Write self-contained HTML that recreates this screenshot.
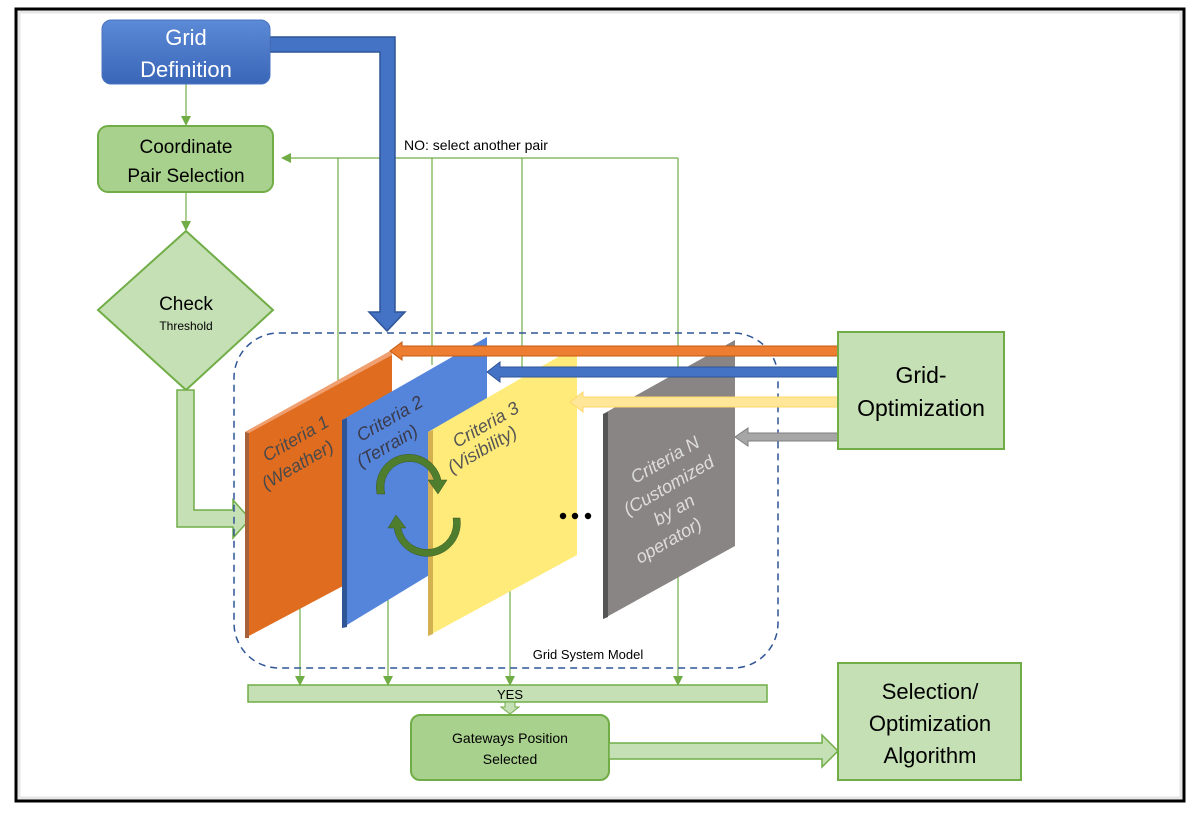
<!DOCTYPE html>
<html><head><style>
body{margin:0;background:#fff}
svg{display:block}
text{font-family:"Liberation Sans",sans-serif}
</style></head><body>
<svg width="1200" height="813" viewBox="0 0 1200 813" xmlns="http://www.w3.org/2000/svg">
<defs>
<linearGradient id="bl" x1="0" y1="0" x2="0" y2="1"><stop offset="0" stop-color="#5b8ad6"/><stop offset="1" stop-color="#3a66b8"/></linearGradient>
<marker id="ga" markerWidth="10" markerHeight="10" refX="9" refY="5" orient="auto" markerUnits="userSpaceOnUse"><path d="M0,0 L10,5 L0,10 z" fill="#70ad47"/></marker>
</defs>
<rect x="0" y="0" width="1200" height="813" fill="#fff"/>
<rect x="16" y="9" width="1168" height="792" fill="#fff" stroke="#000" stroke-width="3"/>
<rect x="19" y="12" width="1162" height="786" fill="none" stroke="#e6e6e6" stroke-width="3"/>

<g stroke="#70ad47" stroke-width="1.2" fill="none">
<line x1="678" y1="158" x2="282" y2="158" marker-end="url(#ga)"/>
<line x1="338" y1="158" x2="338" y2="385"/>
<line x1="432" y1="158" x2="432" y2="365"/>
<line x1="522" y1="158" x2="522" y2="375"/>
<line x1="678" y1="158" x2="678" y2="685" marker-end="url(#ga)"/>
<line x1="300" y1="600" x2="300" y2="685" marker-end="url(#ga)"/>
<line x1="388" y1="600" x2="388" y2="685" marker-end="url(#ga)"/>
<line x1="510" y1="590" x2="510" y2="685" marker-end="url(#ga)"/>
<line x1="186" y1="84" x2="186" y2="125" marker-end="url(#ga)"/>
<line x1="186" y1="192" x2="186" y2="230" marker-end="url(#ga)"/>
</g>
<text x="404" y="150" font-size="14" fill="#000">NO: select another pair</text>

<path d="M270,37 L395,37 L395,312 L405,312 L387,331 L369,312 L380,312 L380,52 L270,52 z" fill="#4472c4" stroke="#2f5597" stroke-width="1.5"/>

<rect x="102" y="20" width="168" height="64" rx="9" fill="url(#bl)" stroke="#4a74c0"/>
<text x="186" y="45" font-size="22" fill="#fff" text-anchor="middle">Grid</text>
<text x="186" y="77" font-size="22" fill="#fff" text-anchor="middle">Definition</text>

<rect x="98" y="126" width="175" height="66" rx="10" fill="#a9d18e" stroke="#70ad47" stroke-width="2"/>
<text x="186" y="153" font-size="19" fill="#000" text-anchor="middle">Coordinate</text>
<text x="186" y="182" font-size="19" fill="#000" text-anchor="middle">Pair Selection</text>

<path d="M186,231 L273,310 L186,390 L98,310 z" fill="#c5e0b4" stroke="#70ad47" stroke-width="2"/>
<text x="186" y="310" font-size="19" fill="#000" text-anchor="middle">Check</text>
<text x="186" y="330" font-size="12" fill="#000" text-anchor="middle">Threshold</text>

<path d="M177,390 L194,390 L194,510 L233,510 L233,500 L250,519 L233,538 L233,527 L177,527 z" fill="#c5e0b4" stroke="#70ad47" stroke-width="1.5"/>

<rect x="234" y="333" width="544" height="335" rx="45" fill="none" stroke="#2f5597" stroke-width="1.5" stroke-dasharray="7,5"/>

<path d="M245,432 L392,350 L392,560 L245,638 z" fill="#e06c20"/>
<path d="M245,432 L249,430 L249,638 L245,638 z" fill="#a8623a"/>
<path d="M245,432 L392,350 L392,355 L249,433 z" fill="#f0a070"/>
<path d="M342,420 L487,337 L487,540 L342,628 z" fill="#5585db"/>
<path d="M342,420 L347,418 L347,627 L342,628 z" fill="#2f5597"/>
<path d="M428,432 L577,346 L577,555 L428,636 z" fill="#ffeb7a"/>
<path d="M428,432 L433,430 L433,634 L428,636 z" fill="#d4b050"/>
<path d="M603,414 L735,340 L735,546 L603,619 z" fill="#8a8585"/>
<path d="M603,414 L608,412 L608,617 L603,619 z" fill="#555"/>

<g font-style="italic" font-size="18">
<text transform="translate(267,462) rotate(-30)" fill="#4a4a4a">Criteria 1</text>
<text transform="translate(266,490) rotate(-30)" fill="#4a4a4a">(Weather)</text>
<text transform="translate(361,442) rotate(-30)" fill="#3a3a4a">Criteria 2</text>
<text transform="translate(361,468) rotate(-30)" fill="#3a3a4a">(Terrain)</text>
<text transform="translate(457,448) rotate(-30)" fill="#555">Criteria 3</text>
<text transform="translate(452,474) rotate(-30)" fill="#555">(Visibility)</text>
<text transform="translate(635,484) rotate(-30)" fill="#ddd">Criteria N</text>
<text transform="translate(628,516) rotate(-30)" fill="#ddd">(Customized</text>
<text transform="translate(658,526) rotate(-30)" fill="#ddd">by an</text>
<text transform="translate(640,564) rotate(-30)" fill="#ddd">operator)</text>
</g>

<path d="M377,494 A31,31 0 0 1 441,480 L447,480 L438,494 L428,480 L434,480 A25,25 0 0 0 385,494 z" fill="#4f7d2e" stroke="#385723" stroke-width="0.5"/>
<path d="M460,518 A31,31 0 0 1 394,528 L388,528 L396,515 L406,528 L401,528 A25,25 0 0 0 453,518 z" fill="#4f7d2e" stroke="#385723" stroke-width="0.5"/>

<circle cx="563" cy="516" r="3.2" fill="#000"/>
<circle cx="575" cy="516" r="3.2" fill="#000"/>
<circle cx="588" cy="516" r="3.2" fill="#000"/>

<path d="M838,346 L402,346 L402,342 L390,351 L402,360 L402,356 L838,356 z" fill="#ed7d31" stroke="#c55a11"/>
<path d="M838,367 L500,367 L500,362 L487,372 L500,382 L500,377 L838,377 z" fill="#4472c4" stroke="#2f5597"/>
<path d="M838,397 L583,397 L583,392 L570,402 L583,412 L583,407 L838,407 z" fill="#ffe699" stroke="#ffd966"/>
<path d="M838,433 L748,433 L748,428 L735,437 L748,446 L748,441 L838,441 z" fill="#a6a6a6" stroke="#7f7f7f"/>

<rect x="838" y="332" width="166" height="117" fill="#c5e0b4" stroke="#70ad47" stroke-width="2"/>
<text x="921" y="383" font-size="23" fill="#000" text-anchor="middle">Grid-</text>
<text x="921" y="416" font-size="23" fill="#000" text-anchor="middle">Optimization</text>

<text x="588" y="659" font-size="13" fill="#000" text-anchor="middle">Grid System Model</text>

<rect x="248" y="685" width="519" height="17" fill="#c5e0b4" stroke="#70ad47" stroke-width="1.5"/>
<text x="510" y="699" font-size="13" fill="#000" text-anchor="middle">YES</text>
<path d="M505,702 L515,702 L515,707 L519,707 L510,714 L501,707 L505,707 z" fill="#c5e0b4" stroke="#70ad47"/>

<rect x="411" y="715" width="198" height="65" rx="9" fill="#a9d18e" stroke="#70ad47" stroke-width="2"/>
<text x="510" y="743" font-size="14" fill="#000" text-anchor="middle">Gateways Position</text>
<text x="510" y="764" font-size="14" fill="#000" text-anchor="middle">Selected</text>
<path d="M609,743 L822,743 L822,735 L838,751 L822,767 L822,759 L609,759 z" fill="#c5e0b4" stroke="#70ad47" stroke-width="1.5"/>

<rect x="838" y="663" width="183" height="117" fill="#c5e0b4" stroke="#70ad47" stroke-width="2"/>
<text x="930" y="699" font-size="22" fill="#000" text-anchor="middle">Selection/</text>
<text x="930" y="731" font-size="22" fill="#000" text-anchor="middle">Optimization</text>
<text x="930" y="763" font-size="22" fill="#000" text-anchor="middle">Algorithm</text>
</svg>
</body></html>
